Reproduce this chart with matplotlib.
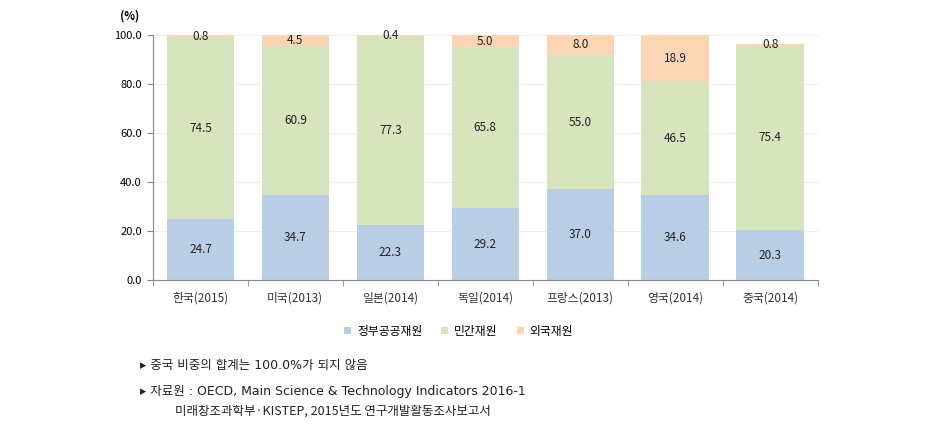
import matplotlib
matplotlib.use('Agg')
import matplotlib.pyplot as plt
import numpy as np

plt.rcParams['font.family'] = ['Noto Sans CJK KR', 'DejaVu Sans']

countries = ['한국(2015)', '미국(2013)', '일본(2014)', '독일(2014)',
             '프랑스(2013)', '영국(2014)', '중국(2014)']
gov = [24.7, 34.7, 22.3, 29.2, 37.0, 34.6, 20.3]
private = [74.5, 60.9, 77.3, 65.8, 55.0, 46.5, 75.4]
foreign = [0.8, 4.5, 0.4, 5.0, 8.0, 18.9, 0.8]
series_names = ['정부공공재원', '민간재원', '외국재원']
yticks = [0, 20, 40, 60, 80, 100]

colors = ['#B9CDE5', '#D7E4BD', '#FCD5B5']

fig = plt.figure(figsize=(9.27, 4.34), dpi=100)
ax = fig.add_axes([0.165, 0.355, 0.717, 0.564])

x = np.arange(len(countries))
gov = np.array(gov); private = np.array(private); foreign = np.array(foreign)
bottoms = [np.zeros(len(x)), gov, gov + private]
for vals, bot, col, name in zip([gov, private, foreign], bottoms, colors, series_names):
	ax.bar(x, vals, bottom=bot, width=0.71, color=col, label=name, zorder=2)
	for xi, v, b in zip(x, vals, bot):
		ax.text(xi, b + v / 2, f'{v:.1f}', ha='center', va='center',
			fontsize=8.5, color='#222222', zorder=3)

ax.set_xlim(-0.5, len(x) - 0.5)
ax.set_ylim(0, 100)
ax.set_yticks(yticks)
ax.set_yticklabels([f'{v:.1f}' for v in yticks], fontsize=8)
ax.set_xticks(x)
ax.set_xticklabels(countries, fontsize=8.5, color='#333333')
ax.tick_params(axis='x', length=0, pad=8)
ax.tick_params(axis='y', length=4, color='#888888', pad=4)
ax.set_xticks(np.arange(-0.5, len(x), 1.0), minor=True)
ax.tick_params(axis='x', which='minor', length=4, color='#888888')
ax.grid(axis='y', color='#EEEEEE', linewidth=0.8, zorder=0)
for s in ['top', 'right']:
	ax.spines[s].set_visible(False)
for s in ['left', 'bottom']:
	ax.spines[s].set_color('#888888')

ax.text(-0.035, 1.05, '(%)', transform=ax.transAxes, fontsize=8,
	fontweight='bold', ha='center', va='bottom')

ax.legend(loc='upper center', bbox_to_anchor=(0.46, -0.14), ncol=3, frameon=False,
	fontsize=8.5, handlelength=0.6, handleheight=0.6, columnspacing=1.6, handletextpad=0.5)

note_fam = ['DejaVu Sans', 'Noto Sans CJK KR']
fig.text(140 / 927, 1 - 365 / 434, '▸ 중국 비중의 합계는 100.0%가 되지 않음',
	fontsize=9, va='center', color='#222222', family=note_fam)
fig.text(140 / 927, 1 - 391 / 434, '▸ 자료원 : OECD, Main Science & Technology Indicators 2016-1',
	fontsize=9, va='center', color='#222222', family=note_fam)
fig.text(175 / 927, 1 - 411 / 434, '미래창조과학부·KISTEP, 2015년도 연구개발활동조사보고서',
	fontsize=9, va='center', color='#222222', family=['Noto Sans CJK KR', 'DejaVu Sans'])

fig.savefig('out.png', dpi=100)
